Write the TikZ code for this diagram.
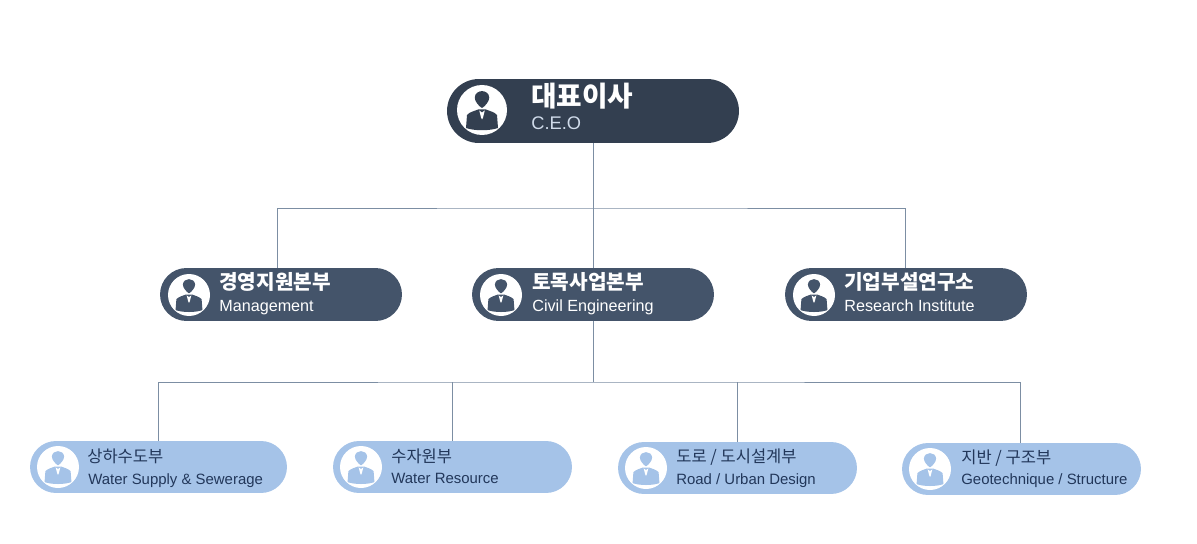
\documentclass[tikz,border=0pt]{standalone}
\usepackage{fontspec}
\setmainfont{Liberation Sans}
\newfontfamily\krfont{Noto Sans CJK KR}
\usetikzlibrary{shapes.misc}
\definecolor{ceocol}{HTML}{333F50}
\definecolor{divcol}{HTML}{44546A}
\definecolor{teamcol}{HTML}{A5C3E8}
\definecolor{linkcol}{HTML}{7C8EA3}
\definecolor{subcol}{HTML}{D0DBEA}
\definecolor{teamtxt}{HTML}{22375A}

\begin{document}
\begin{tikzpicture}[x=0.02cm,y=-0.02cm,pill/.style={rounded rectangle,inner sep=0,draw=none},ceobox/.style={pill,fill=ceocol,minimum width=5.84cm,minimum height=1.28cm},divbox/.style={pill,fill=divcol,minimum width=4.84cm,minimum height=1.06cm},teambox/.style={pill,fill=teamcol,minimum width=4.78cm,minimum height=1.04cm},link/.style={draw=linkcol,line width=0.5pt},txt/.style={anchor=base west,inner sep=0},ceotitle/.style={txt,text=white,font=\krfont\bfseries\fontsize{15.8}{18}\selectfont},ceosub/.style={txt,text=subcol,font=\fontsize{10.4}{12}\selectfont},divtitle/.style={txt,text=white,font=\krfont\bfseries\fontsize{11.5}{13}\selectfont},divsub/.style={txt,text=white,font=\fontsize{9.2}{11}\selectfont},teamtitle/.style={txt,text=teamtxt,font=\krfont\fontsize{9.4}{11}\selectfont},teamsub/.style={txt,text=teamtxt,font=\fontsize{8.5}{11}\selectfont},pics/person/.style={code={\fill[white] (0,0) circle (1); \fill[#1] (0,-0.08) .. controls (-0.12,-0.14) and (-0.3,-0.36) .. (-0.29,-0.5) .. controls (-0.27,-0.84) and (0.27,-0.84) .. (0.29,-0.5) .. controls (0.3,-0.36) and (0.12,-0.14) .. (0,-0.08) -- cycle; \fill[#1] (-0.6,0.2) .. controls (-0.5,0.08) and (-0.3,0.04) .. (-0.16,-0.02) -- (0.16,-0.02) .. controls (0.3,0.04) and (0.5,0.08) .. (0.6,0.2) -- (0.64,0.72) .. controls (0.3,0.84) and (-0.3,0.84) .. (-0.64,0.72) -- cycle; \fill[white] (-0.11,0.02) -- (0,0.1) -- (0.11,0.02) -- (0.04,0.3) -- (0,0.38) -- (-0.04,0.3) -- cycle;}}]
\useasboundingbox (0,0) rectangle (1197,544);
% ceo
\node[ceobox] (ceo) at (593,111) {}; \pic[scale=25] at (482,110) {person=ceocol};
\node[ceotitle] (ceoname) at (531,107) {대표이사}; \node[ceosub] (ceoeng) at (531,130) {C.E.O};
% divisions
\node[divbox] (mgmt) at (281,294.5) {}; \pic[scale=21] at (189,295) {person=divcol};
\node[divtitle] (mgmtname) at (219,289) {경영지원본부}; \node[divsub] (mgmteng) at (219,311) {Management};
\node[divbox] (civil) at (593,294.5) {}; \pic[scale=21] at (501,295) {person=divcol};
\node[divtitle] (civilname) at (532,289) {토목사업본부}; \node[divsub] (civileng) at (532,311) {Civil Engineering};
\node[divbox] (lab) at (906,294.5) {}; \pic[scale=21] at (814,295) {person=divcol};
\node[divtitle] (labname) at (844,289) {기업부설연구소}; \node[divsub] (labeng) at (844,311) {Research Institute};
% teams
\node[teambox,minimum width=5.14cm] (water) at (158.5,467) {}; \pic[scale=21] at (58,467) {person=teamcol};
\node[teamtitle] (watername) at (87,462) {상하수도부}; \node[teamsub] (watereng) at (88,484) {Water Supply \& Sewerage};
\node[teambox] (res) at (452.5,467) {}; \pic[scale=21] at (361,467) {person=teamcol};
\node[teamtitle] (resname) at (391,462) {수자원부}; \node[teamsub] (reseng) at (391,483) {Water Resource};
\node[teambox] (road) at (737.5,468) {}; \pic[scale=21] at (646,468) {person=teamcol};
\node[teamtitle] (roadname) at (676,462) {도로 / 도시설계부}; \node[teamsub] (roadeng) at (676,484) {Road / Urban Design};
\node[teambox] (geo) at (1021.5,469) {}; \pic[scale=21] at (930,469) {person=teamcol};
\node[teamtitle] (geoname) at (961,463) {지반 / 구조부}; \node[teamsub] (geoeng) at (961,484) {Geotechnique / Structure};
% links
\coordinate (mgmttop) at (277,268); \coordinate (labtop) at (905,268); \coordinate (bus) at (593,208); \coordinate (civbus) at (593,382);
\coordinate (watertop) at (158,441); \coordinate (restop) at (452,441); \coordinate (roadtop) at (737,442); \coordinate (geotop) at (1020,443);
\draw[link] (ceo.south) -- (civil.north); \draw[link] (mgmttop) |- (bus) -| (labtop);
\draw[link] (civil.south) -- (civbus); \draw[link] (watertop) |- (civbus) -| (geotop);
\draw[link] (restop) -- (restop |- civbus); \draw[link] (roadtop) -- (roadtop |- civbus);
\end{tikzpicture}
\end{document}
